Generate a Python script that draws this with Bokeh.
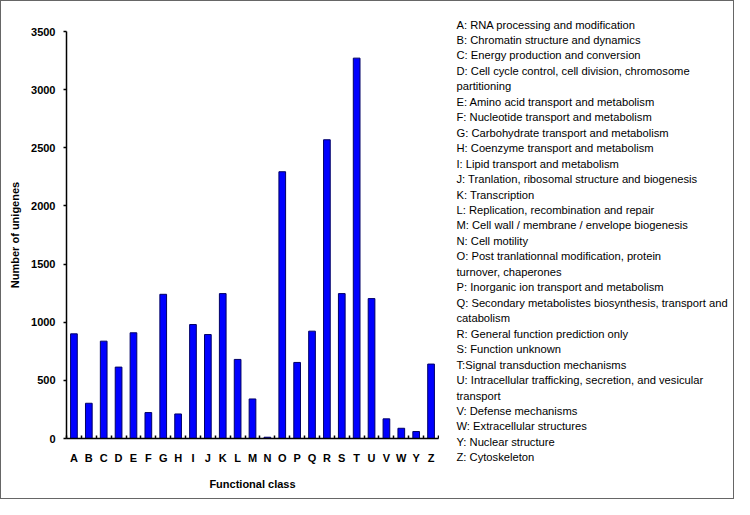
from bokeh.plotting import figure
from bokeh.models import FixedTicker, ColumnDataSource, Range1d
from bokeh.layouts import row, column
from bokeh.core.properties import value
from bokeh.embed import file_html
from bokeh.resources import INLINE

categories = ["A", "B", "C", "D", "E", "F", "G", "H", "I", "J", "K", "L", "M",
              "N", "O", "P", "Q", "R", "S", "T", "U", "V", "W", "Y", "Z"]
counts = [900, 303, 837, 614, 909, 223, 1240, 211, 980, 894, 1246, 680, 340,
          11, 2294, 654, 923, 2569, 1246, 3271, 1203, 169, 88, 60, 640]
y_ticks = [0, 500, 1000, 1500, 2000, 2500, 3000, 3500]
descriptions = [
    "A: RNA processing and modification",
    "B: Chromatin structure and dynamics",
    "C: Energy production and conversion",
    "D: Cell cycle control, cell division, chromosome\npartitioning",
    "E: Amino acid transport and metabolism",
    "F: Nucleotide transport and metabolism",
    "G: Carbohydrate transport and metabolism",
    "H: Coenzyme transport and metabolism",
    "I: Lipid transport and metabolism",
    "J: Tranlation, ribosomal structure and biogenesis",
    "K: Transcription",
    "L: Replication, recombination and repair",
    "M: Cell wall / membrane  / envelope biogenesis",
    "N: Cell motility",
    "O: Post tranlationnal modification, protein\nturnover, chaperones",
    "P: Inorganic ion transport and metabolism",
    "Q: Secondary metabolistes biosynthesis, transport  and\ncatabolism",
    "R: General  function prediction only",
    "S: Function unknown",
    "T:Signal transduction mechanisms",
    "U: Intracellular  trafficking, secretion, and vesicular\ntransport",
    "V: Defense mechanisms",
    "W: Extracellular structures",
    "Y: Nuclear structure",
    "Z: Cytoskeleton",
]

FONT = "Liberation Sans"
H = 497
n = len(categories)
xs = [i + 0.5 for i in range(n)]
src = ColumnDataSource(dict(x=xs, top=counts, cat=categories))

p = figure(width=438, height=H, output_backend="svg", toolbar_location=None,
           x_range=Range1d(0, n), y_range=Range1d(0, 3500),
           min_border_left=65, min_border_right=1, min_border_top=30,
           min_border_bottom=60)
p.outline_line_color = None
p.grid.visible = False

p.vbar(x="x", top="top", width=0.45, bottom=0, source=src,
       fill_color="#0000FF", line_color="#000066", line_width=1)

# x axis
xa = p.xaxis[0]
xa.ticker = FixedTicker(ticks=xs, minor_ticks=list(range(n + 1)))
xa.major_label_overrides = {x: c for x, c in zip(xs, categories)}
xa.major_tick_line_color = None
xa.major_tick_out = 0
xa.major_tick_in = 0
xa.minor_tick_in = 3
xa.minor_tick_out = 0
xa.minor_tick_line_color = "black"
xa.minor_tick_line_width = 1.5
xa.major_label_standoff = 13
xa.axis_label = "Functional class"
xa.axis_label_standoff = 11

# y axis
ya = p.yaxis[0]
ya.ticker = FixedTicker(ticks=y_ticks)
ya.major_tick_out = 3
ya.major_tick_in = 0
ya.minor_tick_line_color = None
ya.major_label_standoff = 8
ya.axis_label = "Number of unigenes"
ya.axis_label_standoff = 7

for ax in (xa, ya):
    ax.axis_line_color = "black"
    ax.axis_line_width = 1.5
    ax.major_tick_line_width = 1.5
    ax.major_label_text_font = FONT
    ax.major_label_text_font_style = "bold"
    ax.major_label_text_font_size = "11px"
    ax.major_label_text_color = "black"
    ax.axis_label_text_font = FONT
    ax.axis_label_text_font_style = "bold"
    ax.axis_label_text_font_size = "11px"
    ax.axis_label_text_color = "black"

# description list (separate panel to the right)
W2 = 294
lines = []
for d in descriptions:
    lines.extend(d.split("\n"))
line_h = 15.46
lsrc = ColumnDataSource(dict(x=[17] * len(lines),
                             y=[23 + k * line_h for k in range(len(lines))],
                             t=lines))
p2 = figure(width=W2, height=H, output_backend="svg", toolbar_location=None,
            x_range=Range1d(0, W2), y_range=Range1d(H, 0),
            min_border=0, min_border_left=0, min_border_right=0,
            min_border_top=0, min_border_bottom=0)
p2.axis.visible = False
p2.grid.visible = False
p2.outline_line_color = None
p2.text(x="x", y="y", text="t", source=lsrc, text_font=value(FONT),
        text_font_size="11.2px", text_color="black", text_baseline="middle",
        text_align="left")

layout = row(p, column(p2), spacing=0, styles={"border": "1px solid #666666",
                                                "background-color": "white"})

open("out.html", "w").write(file_html(layout, INLINE))
